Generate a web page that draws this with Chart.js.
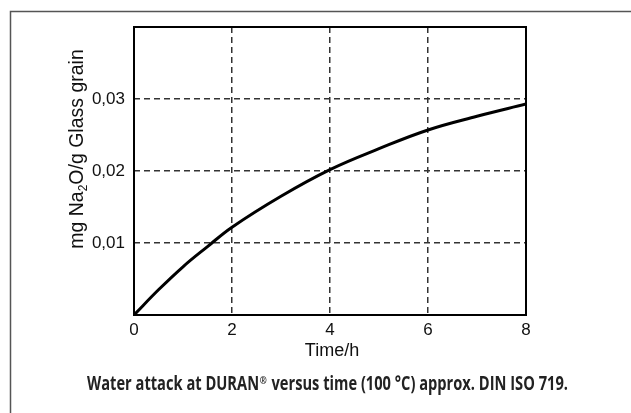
<!DOCTYPE html>
<html>
<head>
<meta charset="utf-8">
<script src="https://cdn.jsdelivr.net/npm/chart.js@4.4.1/dist/chart.umd.min.js"></script>
<style>
html,body{margin:0;padding:0;background:#fff;}
#c{display:block;}
</style>
</head>
<body>
<canvas id="c" width="631" height="413"></canvas>
<script>
// ---- data ----
const timeH = [0, 0.5, 1, 1.5, 2, 3, 4, 5, 6, 7, 8];
const na2o  = [0, 0.0035, 0.0067, 0.0095, 0.0122, 0.0165, 0.0202, 0.0231, 0.0257, 0.0276, 0.0293];
const xTickLabels = ['0', '2', '4', '6', '8'];
const yTickLabels = ['', '0,01', '0,02', '0,03', ''];
const xTitle = 'Time/h';
const yTitleParts = ['mg Na', '2', 'O/g Glass grain'];
const captionParts = ['Water attack at DURAN', '\u00AE', ' versus time (100 \u00B0C) approx. DIN ISO 719.'];

const FONT = "'Liberation Sans', Arial, sans-serif";

const decorPlugin = {
  id: 'decor',
  beforeDraw(chart) {
    const ctx = chart.ctx;
    ctx.save();
    ctx.fillStyle = '#fff';
    ctx.fillRect(0, 0, chart.width, chart.height);
    ctx.strokeStyle = '#555';
    ctx.lineWidth = 1.5;
    ctx.beginPath();
    ctx.moveTo(chart.width + 5, 11.5);
    ctx.lineTo(10.5, 11.5);
    ctx.lineTo(10.5, chart.height + 5);
    ctx.stroke();
    ctx.restore();
  },
  afterDatasetsDraw(chart) {
    const ctx = chart.ctx;
    const a = chart.chartArea;
    ctx.save();
    ctx.strokeStyle = '#000';
    ctx.lineWidth = 2;
    ctx.strokeRect(a.left, a.top, a.right - a.left, a.bottom - a.top);
    ctx.restore();
  },
  afterDraw(chart) {
    const ctx = chart.ctx;
    const a = chart.chartArea;
    ctx.save();
    ctx.fillStyle = '#111';
    // x title
    ctx.font = '18px ' + FONT;
    ctx.textAlign = 'center';
    ctx.textBaseline = 'alphabetic';
    ctx.fillText(xTitle, (a.left + a.right) / 2 + 2, 356);
    // y title with subscript
    ctx.save();
    ctx.translate(83, 149);
    ctx.rotate(-Math.PI / 2);
    const big = '19.5px ' + FONT, small = '12px ' + FONT;
    ctx.font = big; const w0 = ctx.measureText(yTitleParts[0]).width;
    ctx.font = small; const w1 = ctx.measureText(yTitleParts[1]).width;
    ctx.font = big; const w2 = ctx.measureText(yTitleParts[2]).width;
    let x = -(w0 + w1 + w2) / 2;
    ctx.textAlign = 'left';
    ctx.font = big; ctx.fillText(yTitleParts[0], x, 0); x += w0;
    ctx.font = small; ctx.fillText(yTitleParts[1], x, 4); x += w1;
    ctx.font = big; ctx.fillText(yTitleParts[2], x, 0);
    ctx.restore();
    // caption (bold, condensed)
    const cf = "bold 19px 'Open Sans', 'Noto Sans', sans-serif";
    const cfs = "bold 11px 'Open Sans', 'Noto Sans', sans-serif";
    ctx.font = cf; const c0 = ctx.measureText(captionParts[0]).width;
    ctx.font = cfs; const c1 = ctx.measureText(captionParts[1]).width + 2;
    ctx.font = cf; const c2 = ctx.measureText(captionParts[2]).width;
    const total = c0 + c1 + c2;
    const targetW = 481;
    ctx.save();
    ctx.translate(87, 390);
    ctx.scale(targetW / total, 1);
    ctx.fillStyle = '#222';
    ctx.textAlign = 'left';
    ctx.font = cf; ctx.fillText(captionParts[0], 0, 0);
    ctx.font = cfs; ctx.fillText(captionParts[1], c0 + 1, -6);
    ctx.font = cf; ctx.fillText(captionParts[2], c0 + c1, 0);
    ctx.restore();
    ctx.restore();
  }
};

const gridColor = (c) => {
  const n = c.scale.ticks.length;
  return (c.index === 0 || c.index === n - 1) ? 'rgba(0,0,0,0)' : '#333';
};

new Chart(document.getElementById('c'), {
  type: 'line',
  data: {
    datasets: [{
      data: timeH.map((t, i) => ({ x: t, y: na2o[i] })),
      borderColor: '#000',
      borderWidth: 3,
      pointRadius: 0,
      tension: 0.4,
      fill: false
    }]
  },
  options: {
    responsive: false,
    animation: false,
    devicePixelRatio: 1,
    layout: { padding: { top: 27, right: 105, bottom: 0, left: 0 } },
    plugins: { legend: { display: false }, tooltip: { enabled: false }, title: { display: false } },
    scales: {
      x: {
        type: 'linear', min: 0, max: 8,
        ticks: {
          stepSize: 2, padding: 5, color: '#111',
          font: { family: FONT, size: 17 },
          callback: (v, i) => xTickLabels[i]
        },
        grid: { color: gridColor, lineWidth: 1.5, drawTicks: false },
        border: { display: false, dash: [6, 4] },
        afterFit: (s) => { s.height = 98; }
      },
      y: {
        type: 'linear', min: 0, max: 0.04,
        ticks: {
          stepSize: 0.01, padding: 9, color: '#111',
          font: { family: FONT, size: 17 },
          callback: (v, i) => yTickLabels[i]
        },
        grid: { color: gridColor, lineWidth: 1.5, drawTicks: false },
        border: { display: false, dash: [6, 4] },
        afterFit: (s) => { s.width = 134; }
      }
    }
  },
  plugins: [decorPlugin]
});
</script>
</body>
</html>
